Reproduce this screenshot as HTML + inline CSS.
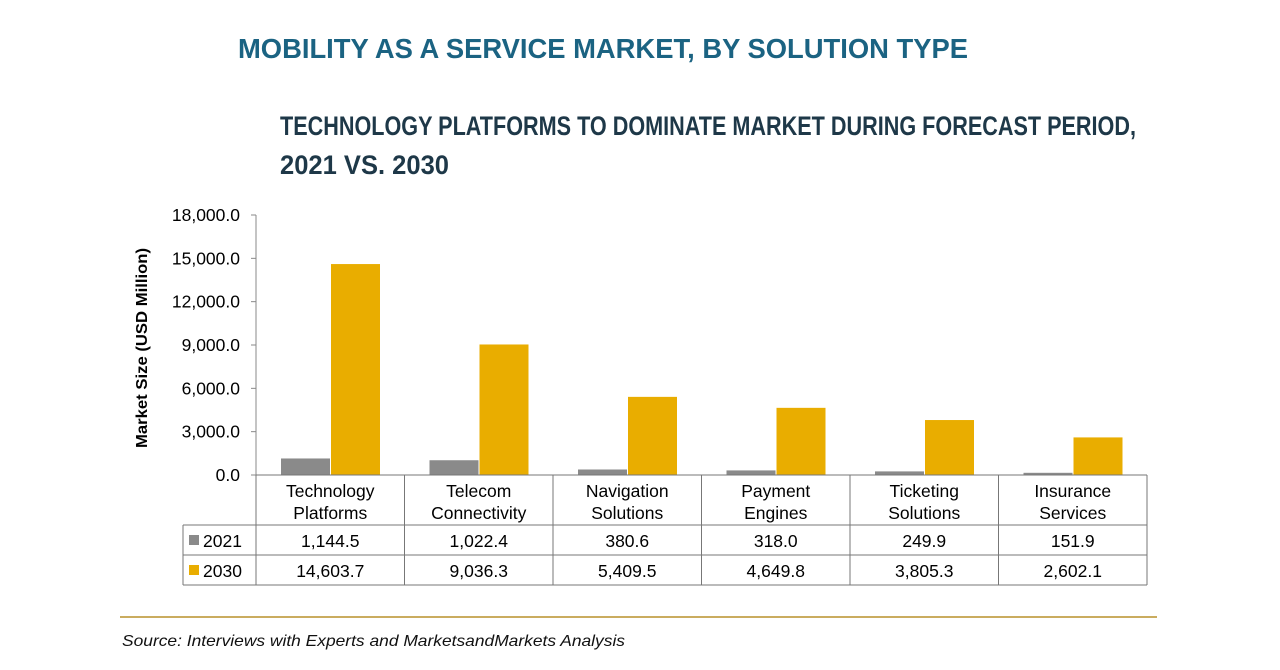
<!DOCTYPE html>
<html><head><meta charset="utf-8"><style>
body{margin:0;background:#fff;width:1280px;height:670px;overflow:hidden;font-family:"Liberation Sans",sans-serif}
svg{position:absolute;left:0;top:0}
</style></head><body>
<svg width="1280" height="670" id="c">
<text x="238" y="58" textLength="730" lengthAdjust="spacingAndGlyphs" font-weight="bold" font-size="28" fill="#1b6382">MOBILITY AS A SERVICE MARKET, BY SOLUTION TYPE</text>
<text x="280" y="135" textLength="856" lengthAdjust="spacingAndGlyphs" font-weight="bold" font-size="27" fill="#1e3848">TECHNOLOGY PLATFORMS TO DOMINATE MARKET DURING FORECAST PERIOD,</text>
<text x="280" y="174" textLength="169" lengthAdjust="spacingAndGlyphs" font-weight="bold" font-size="27" fill="#1e3848">2021 VS. 2030</text>
<text transform="translate(147,348) rotate(-90)" text-anchor="middle" textLength="200" lengthAdjust="spacingAndGlyphs" font-weight="bold" font-size="16" fill="#000">Market Size (USD Million)</text>
<line x1="120" y1="617" x2="1157" y2="617" stroke="#b8902a" stroke-width="1.5"/>
<text x="122" y="646" textLength="503" lengthAdjust="spacingAndGlyphs" font-style="italic" font-size="16" fill="#111">Source: Interviews with Experts and MarketsandMarkets Analysis</text>
<g id="plot"></g>
</svg>
<script>
const categories=[["Technology","Platforms"],["Telecom","Connectivity"],["Navigation","Solutions"],["Payment","Engines"],["Ticketing","Solutions"],["Insurance","Services"]];
const values2021=[1144.5,1022.4,380.6,318.0,249.9,151.9];
const values2030=[14603.7,9036.3,5409.5,4649.8,3805.3,2602.1];
const labels2021=["1,144.5","1,022.4","380.6","318.0","249.9","151.9"];
const labels2030=["14,603.7","9,036.3","5,409.5","4,649.8","3,805.3","2,602.1"];
const yTicks=[0,3000,6000,9000,12000,15000,18000];
const yTickLabels=["0.0","3,000.0","6,000.0","9,000.0","12,000.0","15,000.0","18,000.0"];
const NS="http://www.w3.org/2000/svg";
const g=document.getElementById('plot');
const X0=256,X1=1147,Y0=475,Y1=215,YMAX=18000;
const cw=(X1-X0)/categories.length;
const y=v=>Y0-(v/YMAX)*(Y0-Y1);
const xc=i=>X0+i*cw;
function mk(t,a,txt){const e=document.createElementNS(NS,t);for(const k in a)e.setAttribute(k,a[k]);if(txt!=null)e.textContent=txt;g.appendChild(e);return e;}
let ax=mk('line',{x1:X0,y1:Y1,x2:X0,y2:Y0,stroke:'#888','stroke-width':1});


yTicks.forEach((t,i)=>{
 const tk=mk('line',{x1:X0-5,y1:y(t),x2:X0,y2:y(t),stroke:'#888'});
 
 
 const tl=mk('text',{x:X0-16,y:y(t)+6,'text-anchor':'end','font-size':17.5,fill:'#000'},yTickLabels[i]);
 
 
});
const bw=49;
categories.forEach((c,i)=>{
 const b1=mk('rect',{x:xc(i)+25,y:y(values2021[i]),width:bw,height:Y0-y(values2021[i]),fill:'#8a8a8a'});
 
 
 const b2=mk('rect',{x:xc(i)+25+bw+1,y:y(values2030[i]),width:bw,height:Y0-y(values2030[i]),fill:'#e9ad00'});
 
 
});
const TL=183,R0=Y0,R1=525,R2=555,R3=585;
const st={stroke:'#777','stroke-width':1};
[[X0,R0,X1,R0],[TL,R1,X1,R1],[TL,R2,X1,R2],[TL,R3,X1,R3],[TL,R1,TL,R3],[X1,R0,X1,R3]].forEach(l=>{
 const e=mk('line',Object.assign({x1:l[0],y1:l[1],x2:l[2],y2:l[3]},st));
 
 
});
for(let i=0;i<=categories.length;i++){
 const e=mk('line',Object.assign({x1:xc(i),y1:R0,x2:xc(i),y2:R3},st));
 
 
}
categories.forEach((c,i)=>{
 const cx=xc(i)+cw/2;
 c.forEach((s,j)=>{
  const t=mk('text',{x:cx,y:497+j*22,'text-anchor':'middle','font-size':17.5,fill:'#000'},s);
  
  
 });
 const a=mk('text',{x:cx,y:547,'text-anchor':'middle','font-size':17.5,fill:'#000'},labels2021[i]);
 
 
 const b=mk('text',{x:cx,y:577,'text-anchor':'middle','font-size':17.5,fill:'#000'},labels2030[i]);
 
 
});
const lg1=mk('rect',{x:189,y:535,width:10,height:10,fill:'#8a8a8a'});


const lt1=mk('text',{x:203,y:547,'font-size':17.5,fill:'#000'},'2021');


const lg2=mk('rect',{x:189,y:565,width:10,height:10,fill:'#e9ad00'});


const lt2=mk('text',{x:203,y:577,'font-size':17.5,fill:'#000'},'2030');


</script>
</body></html>
